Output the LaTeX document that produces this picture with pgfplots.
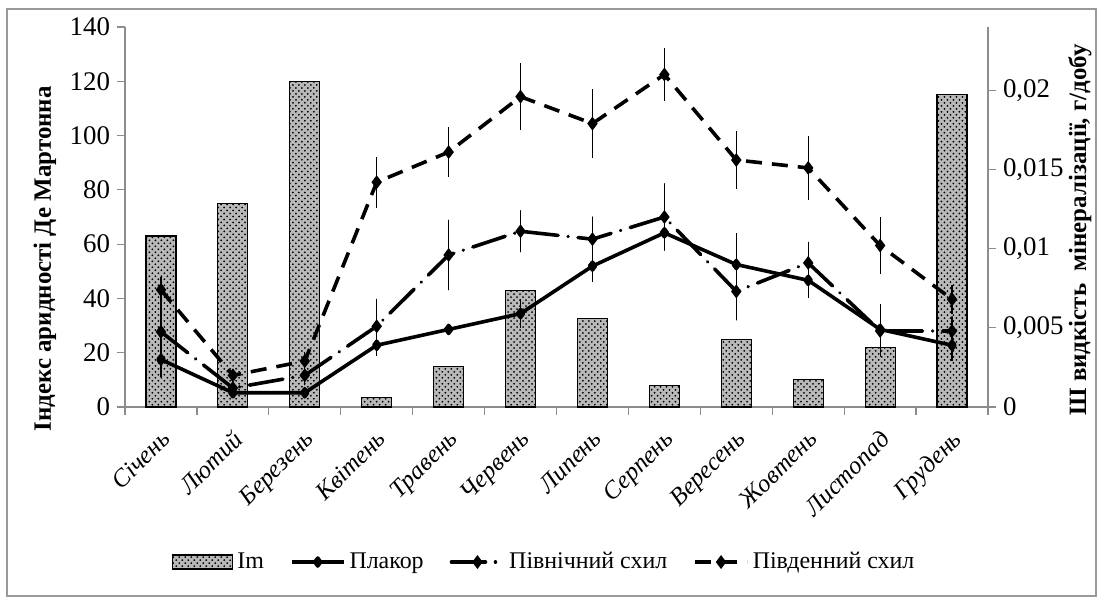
\documentclass[border=0pt]{standalone}
\usepackage{fontspec}
\setmainfont{Liberation Serif}
\usepackage{pgfplots}
\usepackage{pgfplotstable}
\pgfplotsset{compat=1.18}
\usetikzlibrary{patterns}

\pgfplotstableread{
m im
0 63
1 75
2 120
3 3.5
4 15
5 43
6 32.5
7 8
8 25
9 10
10 22
11 115
}\bars

\pgfplotstableread{
m plak plakerr pn pnerr pd pderr
0 0.0030 0.0011 0.00475 0.0018 0.0074 0.0008
1 0.0009 0.0003 0.0012 0.0005 0.0020 0.0004
2 0.0009 0.0003 0.0020 0.0006 0.0029 0.0006
3 0.0039 0.0007 0.0051 0.0017 0.0142 0.0016
4 0.0049 0.0003 0.0096 0.0022 0.0161 0.0016
5 0.0059 0.0009 0.0111 0.0013 0.0196 0.0021
6 0.0089 0.0010 0.0106 0.0014 0.0179 0.0022
7 0.0110 0.0008 0.0120 0.0021 0.0210 0.0017
8 0.0090 0.0020 0.0073 0.0018 0.0156 0.0018
9 0.0080 0.0011 0.0091 0.0013 0.0151 0.0020
10 0.0049 0.0016 0.0048 0.0016 0.0102 0.0018
11 0.0039 0.0010 0.0048 0.0009 0.0068 0.0009
}\lines

\begin{document}
\begin{tikzpicture}
\path[use as bounding box] (-62.5bp,-96bp) rectangle (487bp,203.5bp);
\draw[black!40, line width=0.6bp] (-59bp,-94.5bp) rectangle (485.5bp,199bp);
\pgfplotsset{
  common/.style={
    scale only axis, width=431.5bp, height=190bp,
    xmin=-0.5, xmax=11.5, ymin=0,
    tick label style={font=\fontsize{13.5}{14}\selectfont, text=black},
    /pgf/number format/assume math mode=true,
    axis line style={draw=black!45, line width=0.6bp},
    tick align=outside, major tick length=4bp,
    every tick/.style={draw=black!45, line width=0.6bp},
  }
}
\begin{axis}[common,
  ymax=140, ytick={0,20,...,140},
  axis x line*=bottom, axis y line*=left,
  xtick={-0.5,0.5,...,11.5}, xticklabels={},
  extra x ticks={0,...,11},
  extra x tick labels={Січень,Лютий,Березень,Квітень,Травень,Червень,Липень,Серпень,Вересень,Жовтень,Листопад,Грудень},
  extra x tick style={major tick length=0pt, tick label style={rotate=45, anchor=north east, font=\itshape\fontsize{12.5}{13}\selectfont, inner sep=1bp, yshift=-6bp, xshift=-7bp}},
  ylabel={Індекс аридності Де Мартонна},
  every axis y label/.style={at={(axis description cs:-0.0927,0.39)}, anchor=center, rotate=90, font=\bfseries\fontsize{12.5}{13}\selectfont},
]
\addplot[ybar, bar width=15bp, draw=black, line width=0.6bp, fill=gray!55, postaction={pattern=crosshatch dots}] table[x=m,y=im]{\bars};
\end{axis}
\begin{axis}[common,
  ymax=0.024, ytick={0,0.005,0.01,0.015,0.02}, scaled y ticks=false,
  yticklabels={0,{0,005},{0,01},{0,015},{0,02}},
  axis y line*=right, axis x line=none,
  ylabel={Ш видкість\ \ мінералізації, г/добу},
  every axis y label/.style={at={(axis description cs:1.1066,0.466)}, anchor=center, rotate=90, font=\bfseries\fontsize{12.5}{13}\selectfont},
  legend style={at={(axis description cs:0.487,-0.408)}, anchor=center, draw=none, fill=none,
    legend columns=4, font=\fontsize{12}{13}\selectfont,
    /tikz/every odd column/.append style={column sep=0bp},
    /tikz/every even column/.append style={column sep=11bp}},
  legend cell align=left,
  legend image code/.code={\draw[mark repeat=2, mark phase=2, #1] plot coordinates {(0bp,0bp) (13bp,0bp) (26bp,0bp)};},
  error bars/error bar style={line width=0.6bp, solid},
]
\addlegendimage{legend image code/.code={\draw[fill=gray!55, draw=black, line width=0.6bp, postaction={pattern=crosshatch dots}] (0bp,-3.5bp) rectangle (30bp,3.5bp);}}
\addlegendentry{Im}
\addplot[black, line width=1.8bp, line join=round, mark=diamond*, mark size=2bp, mark options={solid},
  error bars/.cd, y dir=both, y explicit, error mark=none]
  table[x=m, y=plak, y error=plakerr]{\lines};
\addlegendentry{Плакор}
\addplot[black, line width=1.8bp, line cap=round, dash pattern=on 17bp off 5bp on 0.01bp off 5bp, mark=diamond*, mark size=2bp, mark options={solid},
  error bars/.cd, y dir=both, y explicit, error mark=none]
  table[x=m, y=pn, y error=pnerr]{\lines};
\addlegendentry{Північний схил}
\addplot[black, line width=1.8bp, dash pattern=on 8bp off 5bp, mark=diamond*, mark size=2bp, mark options={solid},
  error bars/.cd, y dir=both, y explicit, error mark=none]
  table[x=m, y=pd, y error=pderr]{\lines};
\addlegendentry{Південний схил}
\end{axis}
\end{tikzpicture}
\end{document}
